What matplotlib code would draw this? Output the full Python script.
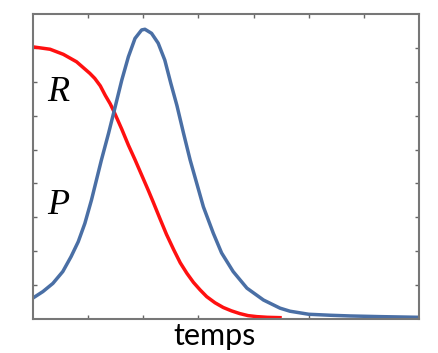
import matplotlib
matplotlib.use("Agg")
from matplotlib import pyplot as plt

# curve R (red)
r_t = [0.0, 0.31, 0.55, 0.79, 1.03, 1.12, 1.22, 1.31, 1.40, 1.46, 1.61, 1.73, 1.85,
       1.97, 2.09, 2.18, 2.30, 2.42, 2.55, 2.67, 2.79, 2.91, 3.03, 3.15, 3.30, 3.45,
       3.60, 3.75, 3.90, 4.06, 4.25, 4.48]
r_y = [8.03, 7.96, 7.81, 7.59, 7.25, 7.10, 6.88, 6.60, 6.35, 6.15, 5.60, 5.13, 4.70,
       4.25, 3.80, 3.45, 2.97, 2.50, 2.05, 1.66, 1.35, 1.08, 0.86, 0.66, 0.48, 0.34,
       0.24, 0.16, 0.10, 0.07, 0.05, 0.04]

# curve P (blue)
p_t = [0.0, 0.18, 0.36, 0.54, 0.69, 0.82, 0.94, 1.06, 1.15, 1.24, 1.37, 1.49, 1.61,
       1.73, 1.85, 1.97, 2.03, 2.15, 2.27, 2.39, 2.50, 2.61, 2.73, 2.85, 2.97, 3.09,
       3.27, 3.42, 3.63, 3.88, 4.18, 4.48, 4.66, 5.0, 5.4, 5.75, 6.3, 7.0]
p_y = [0.62, 0.81, 1.05, 1.40, 1.84, 2.28, 2.82, 3.51, 4.10, 4.69, 5.48, 6.26, 7.05,
       7.74, 8.28, 8.53, 8.55, 8.43, 8.14, 7.64, 6.95, 6.30, 5.48, 4.69, 4.00, 3.31,
       2.53, 1.95, 1.40, 0.91, 0.56, 0.32, 0.23, 0.14, 0.11, 0.09, 0.07, 0.05]

fig = plt.figure(figsize=(4.39, 3.53), dpi=100)
ax = fig.add_axes([0.0752, 0.0963, 0.8792, 0.864])

ax.plot(r_t, r_y, color="#ff1010", lw=2.5)
ax.plot(p_t, p_y, color="#4a6fa5", lw=2.5)

ax.set_xlim(0, 7)
ax.set_ylim(0, 9)
ax.set_xticks(range(1, 7))
ax.set_yticks(range(1, 9))
ax.tick_params(direction="in", length=3, width=1, color="#666666",
               top=True, right=True, labelbottom=False, labelleft=False)
for s in ax.spines.values():
    s.set_color("#777777")
    s.set_linewidth(1.5)

ax.text(0.45, 6.43, "R", family="Liberation Serif", style="italic", fontsize=26,
        ha="center", va="baseline")
ax.text(0.45, 3.10, "P", family="Liberation Serif", style="italic", fontsize=26,
        ha="center", va="baseline")
fig.text(215 / 439, 8 / 353, "temps", family="Lato", fontsize=22,
         ha="center", va="baseline")

fig.savefig("out.png", dpi=100)
